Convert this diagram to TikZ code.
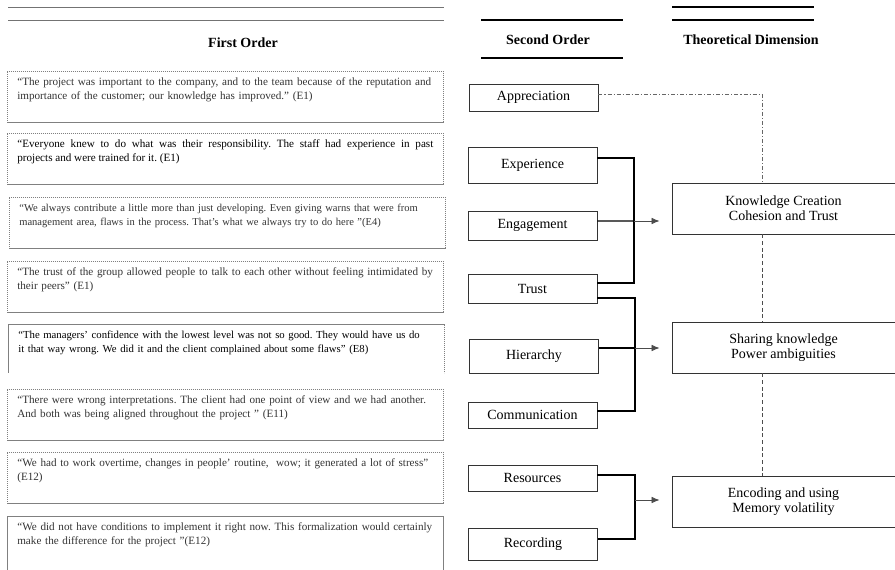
\documentclass[tikz,border=0pt]{standalone}
\usepackage{fontspec}
\setmainfont{Liberation Serif}
\usepackage{tikz}
\usetikzlibrary{arrows.meta}
\frenchspacing
\def\quotesize{\fontsize{8.35}{10.2}\selectfont}
\def\boxsize{\fontsize{10.5}{11.3}\selectfont}
\def\headsize{\bfseries\fontsize{10.5}{12}\selectfont}

\tikzset{
	quote/.style={draw=black!50, dash pattern=on 0.9pt off 0.6pt, line width=0.5pt, anchor=north west, inner xsep=7.5pt, inner ysep=3pt, text width=312pt, align=left, text height=7.9pt, text depth=24.4pt, font=\quotesize, text=black!80},
	order/.style={draw=black!80, line width=0.7pt, minimum width=96.75pt, inner sep=0pt, font=\boxsize},
	theory/.style={draw=black!80, line width=0.7pt, minimum width=167.25pt, minimum height=38.25pt, inner sep=0pt, align=center, font=\boxsize},
	bracket/.style={line width=1pt, black},
	toward/.style={line width=0.6pt, black!70, -{Latex[length=6pt,width=5pt]}, shorten >=9pt},
	linkdot/.style={line width=0.6pt, black!60, dash pattern=on 3pt off 1.5pt on 0.8pt off 1.5pt},
	linkdash/.style={line width=0.6pt, black!70, dash pattern=on 3pt off 2pt},
}

\begin{document}
\begin{tikzpicture}[x=0.75pt, y=-0.75pt]
			%%%%% START %%%%%
			\useasboundingbox (0,0) rectangle (895,569);
			
			\draw[line width=0.75pt, black!55] (8,7) -- (444,7);
			\draw[line width=0.75pt, black!55] (8,20) -- (444,20);
			\node[font=\headsize] (first) at (243,43) {First Order};
			
			\draw[line width=1pt] (481,20) -- (623,20);
			\node[font=\headsize] (second) at (548,40) {Second Order};
			\draw[line width=1pt] (481,58) -- (623,58);
			
			\draw[line width=1pt] (672,7) -- (814,7);
			\draw[line width=1pt] (672,20) -- (814,20);
			\node[font=\headsize] (theo) at (751,40) {Theoretical Dimension};
			
			\node[quote] (q1) at (7,71) {“The project was important to the company, and to the team because of the reputation and\\importance of the customer; our knowledge has improved.” (E1)};
			\node[quote, align=justify, text=black] (q2) at (7,133) {“Everyone knew to do what was their responsibility. The staff had experience in past\linebreak projects and were trained for it. (E1)};
			\node[quote, font=\fontsize{7.9}{10.2}\selectfont] (q3) at (9,197) {“We always contribute a little more than just developing. Even giving warns that were from\\management area, flaws in the process. That’s what we always try to do here ”(E4)};
			\node[quote] (q4) at (7,261) {“The trust of the group allowed people to talk to each other without feeling intimidated by\\their peers” (E1)};
			\node[quote, draw=none, text=black, text depth=22.1pt, font=\fontsize{8.05}{10.2}\selectfont] (q5) at (8,324) {“The managers’ confidence with the lowest level was not so good. They would have us do\\it that way wrong. We did it and the client complained about some flaws” (E8)};
			\draw[quote] (q5.south west) -- (q5.north west) -- (q5.north east) -- (q5.south east);
			\node[quote] (q6) at (7,389) {“There were wrong interpretations. The client had one point of view and we had another.\\And both was being aligned throughout the project ” (E11)};
			\node[quote] (q7) at (7,452) {“We had to work overtime, changes in people’ routine,\ \ wow; it generated a lot of stress”\\(E12)};
			\node[quote, solid, text depth=45pt] (q8) at (7,516) {“We did not have conditions to implement it right now. This formalization would certainly\\make the difference for the project ”(E12)};
			
			\node[order, minimum height=20.25pt] (appr) at (533.5,97.5) {Appreciation};
			\node[order, minimum height=27pt] (exper) at (532.5,165) {Experience};
			\node[order, minimum height=21.75pt] (engage) at (532.5,225.5) {Engagement};
			\node[order, minimum height=21.75pt] (trust) at (532.5,288.5) {Trust};
			\node[order, minimum height=25.5pt] (hier) at (534,356) {Hierarchy};
			\node[order, minimum height=19.5pt] (comm) at (532.5,415) {Communication};
			\node[order, minimum height=19.5pt] (resrc) at (532.5,478) {Resources};
			\node[order, minimum height=24pt] (record) at (533,544) {Recording};
			
			\node[theory] (create) at (783.5,208.5) {Knowledge Creation\\Cohesion and Trust};
			\node[theory] (share) at (783.5,347.5) {Sharing knowledge\\Power ambiguities};
			\node[theory] (encode) at (783.5,501.5) {Encoding and using\\Memory volatility};
			
			\coordinate (createjoin) at (634,221);
			\coordinate (sharejoin) at (635,348);
			\coordinate (encodejoin) at (635,500);
			
			\draw[bracket] ([yshift=5.25pt]exper.east) -| (createjoin) |- ([yshift=4.1pt]trust.east);
			\draw[bracket] ([yshift=3.4pt]engage.east) -- (createjoin);
			\draw[toward] (createjoin) -- (createjoin -| create.west);
			
			\draw[bracket] ([yshift=-7.1pt]trust.east) -| (sharejoin) |- ([yshift=3pt]comm.east);
			\draw[bracket] ([yshift=6pt]hier.east) -- (sharejoin);
			\draw[toward] (sharejoin) -- (sharejoin -| share.west);
			
			\draw[bracket] ([yshift=2.25pt]resrc.east) -| (encodejoin) |- ([yshift=3.75pt]record.east);
			\draw[toward] (encodejoin) -- (encodejoin -| encode.west);
			
			\draw[linkdot] ([yshift=2.6pt]appr.east) -| ([xshift=-16.1pt]create.north);
			\draw[linkdash] ([xshift=-16.1pt]create.south) -- ([xshift=-16.1pt]share.north);
			\draw[linkdash] ([xshift=-16.1pt]share.south) -- ([xshift=-16.1pt]encode.north);
			
			%%%%% END %%%%%
		\end{tikzpicture}
\end{document}
